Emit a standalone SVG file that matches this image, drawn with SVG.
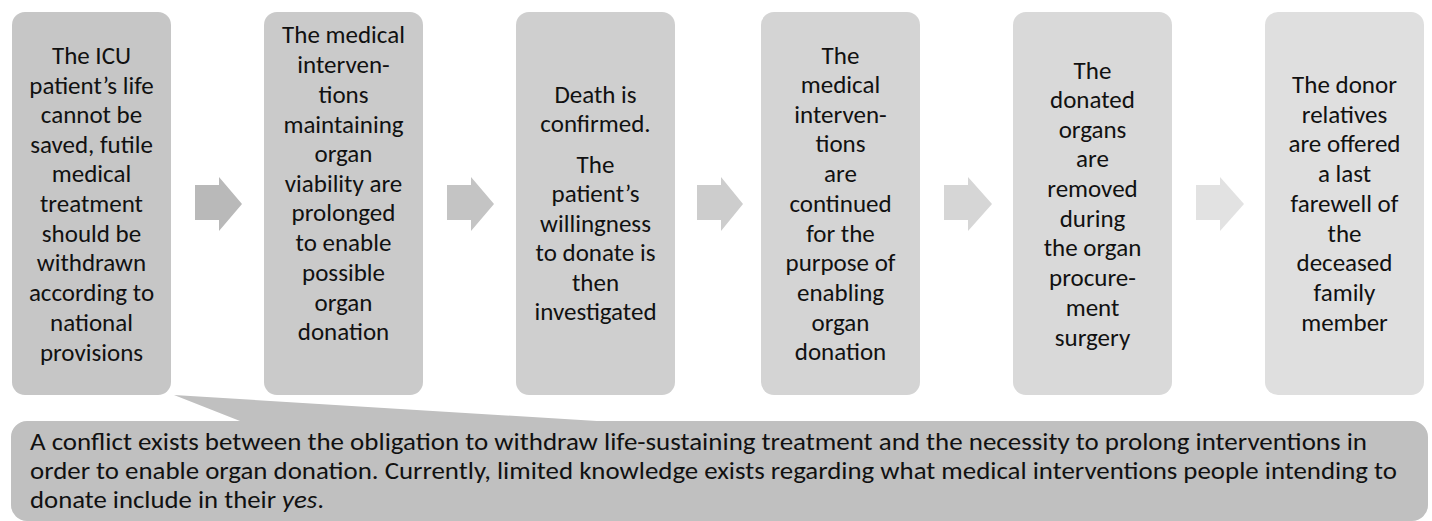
<svg xmlns="http://www.w3.org/2000/svg" width="1432" height="521" viewBox="0 0 1432 521">
<style>
text{font-family:Carlito,Lato,"Liberation Sans",sans-serif;fill:#111;}
.t{font-size:25px;text-anchor:middle;}
.c{font-size:23.5px;}
</style>
<rect width="1432" height="521" fill="#fff"/>
<g id="callout">
<path d="M26,421 L240,421 L174,395 L597,421 L1412,421 A16,16 0 0 1 1428,437 L1428,505 A16,16 0 0 1 1412,521 L27,521 A16,16 0 0 1 11,505 L11,437 A16,16 0 0 1 27,421 Z" fill="#c0c0c0"/>
<text class="c" x="30" y="450" textLength="1337" lengthAdjust="spacingAndGlyphs">A conflict exists between the obligation to withdraw life-sustaining treatment and the necessity to prolong interventions in</text>
<text class="c" x="30" y="479" textLength="1367" lengthAdjust="spacingAndGlyphs">order to enable organ donation. Currently, limited knowledge exists regarding what medical interventions people intending to</text>
<text class="c" x="30" y="508" textLength="294" lengthAdjust="spacingAndGlyphs">donate include in their <tspan font-style="italic">yes</tspan>.</text>
</g>
<g id="connectors">
<path d="M195,185 H219 V177 L242,204 L219,231 V220 H195 Z" fill="#b9b9b9"/>
<path d="M447,185 H471 V177 L494,204 L471,231 V220 H447 Z" fill="#c4c4c4"/>
<path d="M697,185 H721 V177 L743,204 L721,231 V220 H697 Z" fill="#cdcdcd"/>
<path d="M944,185 H968 V177 L992,204 L968,231 V220 H944 Z" fill="#d6d6d6"/>
<path d="M1196,185 H1220 V177 L1244,204 L1220,231 V220 H1196 Z" fill="#e2e2e2"/>
</g>
<g id="box1">
<rect x="12" y="12" width="159" height="383" rx="13" fill="#c6c6c6"/>
<text class="t"><tspan x="91.5" y="64">The ICU</tspan><tspan x="91.5" y="94">patient’s life</tspan><tspan x="91.5" y="123">cannot be</tspan><tspan x="91.5" y="153">saved, futile</tspan><tspan x="91.5" y="182">medical</tspan><tspan x="91.5" y="212">treatment</tspan><tspan x="91.5" y="242">should be</tspan><tspan x="91.5" y="271">withdrawn</tspan><tspan x="91.5" y="301">according to</tspan><tspan x="91.5" y="331">national</tspan><tspan x="91.5" y="361">provisions</tspan></text>
</g>
<g id="box2">
<rect x="264" y="12" width="159" height="383" rx="13" fill="#cacaca"/>
<text class="t"><tspan x="343.5" y="43">The medical</tspan><tspan x="343.5" y="73">interven-</tspan><tspan x="343.5" y="103">tions</tspan><tspan x="343.5" y="133">maintaining</tspan><tspan x="343.5" y="162">organ</tspan><tspan x="343.5" y="192">viability are</tspan><tspan x="343.5" y="221">prolonged</tspan><tspan x="343.5" y="251">to enable</tspan><tspan x="343.5" y="281">possible</tspan><tspan x="343.5" y="311">organ</tspan><tspan x="343.5" y="340">donation</tspan></text>
</g>
<g id="box3">
<rect x="516" y="12" width="159" height="383" rx="13" fill="#cfcfcf"/>
<text class="t"><tspan x="595.5" y="103">Death is</tspan><tspan x="595.5" y="132">confirmed.</tspan><tspan x="595.5" y="173">The</tspan><tspan x="595.5" y="202">patient’s</tspan><tspan x="595.5" y="232">willingness</tspan><tspan x="595.5" y="261">to donate is</tspan><tspan x="595.5" y="291">then</tspan><tspan x="595.5" y="320">investigated</tspan></text>
</g>
<g id="box4">
<rect x="761" y="12" width="159" height="383" rx="13" fill="#d4d4d4"/>
<text class="t"><tspan x="840.5" y="64">The</tspan><tspan x="840.5" y="93">medical</tspan><tspan x="840.5" y="123">interven-</tspan><tspan x="840.5" y="152">tions</tspan><tspan x="840.5" y="182">are</tspan><tspan x="840.5" y="212">continued</tspan><tspan x="840.5" y="242">for the</tspan><tspan x="840.5" y="271">purpose of</tspan><tspan x="840.5" y="301">enabling</tspan><tspan x="840.5" y="331">organ</tspan><tspan x="840.5" y="360">donation</tspan></text>
</g>
<g id="box5">
<rect x="1013" y="12" width="159" height="383" rx="13" fill="#d9d9d9"/>
<text class="t"><tspan x="1092.5" y="79">The</tspan><tspan x="1092.5" y="108">donated</tspan><tspan x="1092.5" y="138">organs</tspan><tspan x="1092.5" y="167">are</tspan><tspan x="1092.5" y="197">removed</tspan><tspan x="1092.5" y="227">during</tspan><tspan x="1092.5" y="256">the organ</tspan><tspan x="1092.5" y="286">procure-</tspan><tspan x="1092.5" y="316">ment</tspan><tspan x="1092.5" y="346">surgery</tspan></text>
</g>
<g id="box6">
<rect x="1265" y="12" width="159" height="383" rx="13" fill="#dfdfdf"/>
<text class="t"><tspan x="1344.5" y="93">The donor</tspan><tspan x="1344.5" y="123">relatives</tspan><tspan x="1344.5" y="152">are offered</tspan><tspan x="1344.5" y="182">a last</tspan><tspan x="1344.5" y="212">farewell of</tspan><tspan x="1344.5" y="242">the</tspan><tspan x="1344.5" y="271">deceased</tspan><tspan x="1344.5" y="301">family</tspan><tspan x="1344.5" y="331">member</tspan></text>
</g>
</svg>
